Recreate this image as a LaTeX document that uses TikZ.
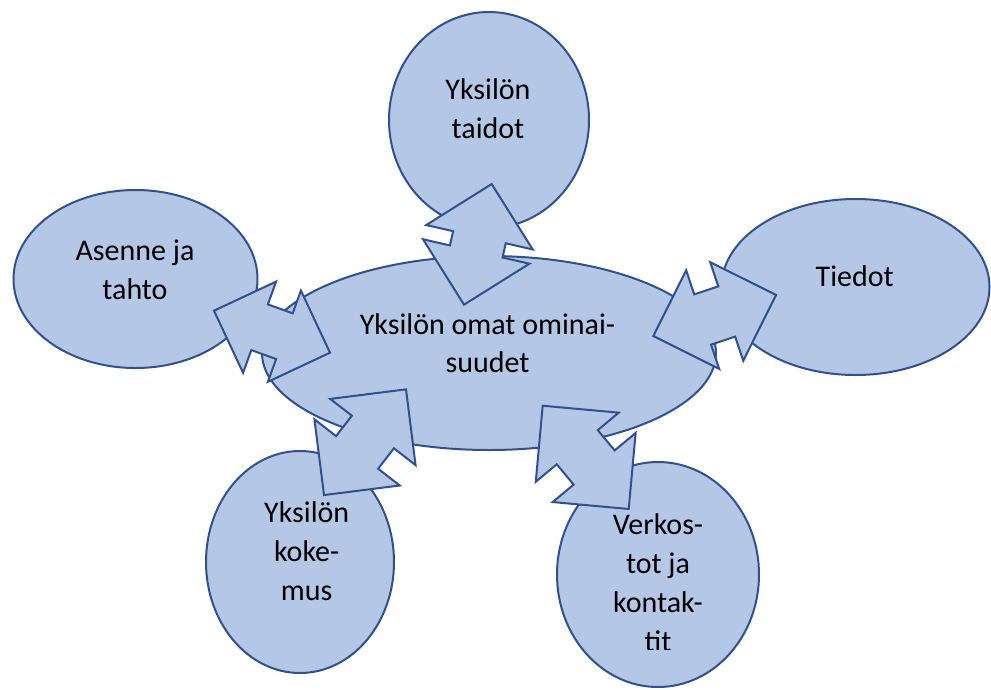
\documentclass[tikz,border=0pt]{standalone}
\usepackage{fontspec}
\setmainfont{Carlito}
\usetikzlibrary{shapes.geometric}
\definecolor{shapefill}{HTML}{B4C7E7}
\definecolor{shapeline}{HTML}{2F528F}
\tikzset{
  bubble/.style={ellipse, draw=shapeline, fill=shapefill, line width=2pt, inner sep=0pt},
  caption/.style={anchor=base, inner sep=0pt, text=black,
                  font=\fontsize{30}{39}\selectfont},
  % double-headed block arrow with right-angled heads:
  % #1 total length, #2 half width of the heads, #3 half width of the shaft
  pics/dblarrow/.style n args={3}{code={
    \draw[draw=shapeline, fill=shapefill, line width=2pt, miter limit=10]
      ({#1/2},0) -- ({#1/2-#2},{#2}) -- ({#1/2-#2},{#3}) -- ({-#1/2+#2},{#3})
      -- ({-#1/2+#2},{#2}) -- ({-#1/2},0) -- ({-#1/2+#2},{-#2}) -- ({-#1/2+#2},{-#3})
      -- ({#1/2-#2},{-#3}) -- ({#1/2-#2},{-#2}) -- cycle;
  }}
}
\begin{document}
\begin{tikzpicture}[x=1pt, y=-1pt]
\useasboundingbox (0,0) rectangle (991,689);

% ellipses
\node[bubble, minimum width=454pt, minimum height=194pt] (core)     at (489,353)   {};
\node[bubble, minimum width=200pt, minimum height=216pt] (skills)   at (489,120)   {};
\node[bubble, minimum width=244pt, minimum height=178pt] (attitude) at (135.5,279) {};
\node[bubble, minimum width=268pt, minimum height=176pt] (knowledge) at (855.5,287) {};
\node[bubble, minimum width=188pt, minimum height=222pt] (experience) at (300,562) {};
\node[bubble, minimum width=202pt, minimum height=225pt] (network)  at (658,574.5) {};

% double arrows between the outer ellipses and the core
\pic[rotate=77.07]  (arrSkills)     at (477.85,244.35) {dblarrow={123.8}{54.6}{27}};
\pic[rotate=-19.9]  (arrAttitude)   at (272,331.7)     {dblarrow={123.4}{48.5}{24.3}};
\pic[rotate=18.5]   (arrKnowledge)  at (714.7,315.5)   {dblarrow={129.4}{52}{26.5}};
\pic[rotate=52.2]   (arrExperience) at (365,442.2)     {dblarrow={133.8}{54}{26.6}};
\pic[rotate=-50.2]  (arrNetwork)    at (585.7,457.35)  {dblarrow={134.4}{54}{26.7}};

% texts
\node[caption] (core-1) at (487.5,334) {Yksilön omat ominai-};
\node[caption] (core-2) at (487.5,372.3) {suudet};

\node[caption] (skills-1) at (488,99) {Yksilön};
\node[caption] (skills-2) at (488,138) {taidot};

\node[caption] (attitude-1) at (135,260) {Asenne ja};
\node[caption] (attitude-2) at (135,299) {tahto};

\node[caption] (knowledge-1) at (854.7,286.7) {Tiedot};

\node[caption] (experience-1) at (306.7,522.7) {Yksilön};
\node[caption] (experience-2) at (306.7,561.5) {koke-};
\node[caption] (experience-3) at (306.7,600.3) {mus};

\node[caption] (network-1) at (658,534) {Verkos-};
\node[caption] (network-2) at (658,573) {tot ja};
\node[caption] (network-3) at (658,612) {kontak-};
\begin{scope}
  \clip (600,620) rectangle (720,649);
  \node[caption] (network-4) at (658,651) {tit};
\end{scope}
\end{tikzpicture}
\end{document}
